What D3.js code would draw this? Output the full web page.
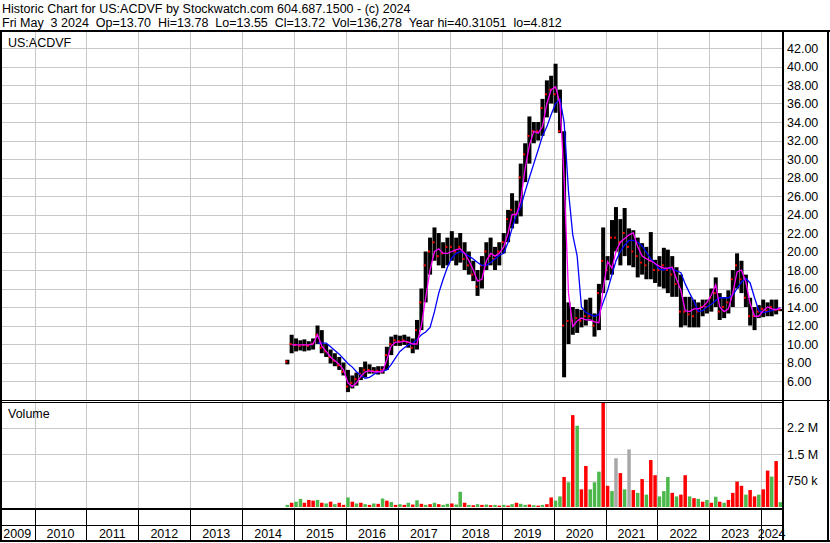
<!DOCTYPE html>
<html>
<head>
<meta charset="utf-8">
<script src="https://cdn.jsdelivr.net/npm/d3@7"></script>
<style>
  body { margin: 0; background: #fff; }
  svg { display: block; }
  text { font-family: "Liberation Sans", Arial, sans-serif; fill: #000; }
</style>
</head>
<body>
<div id="chart"></div>
<script>
// monthly bars, first month is Nov 2014, last is May 2024
var firstMonth = new Date(2014, 10, 15);

var priceHigh = [
  8.3, 11.0,
  10.6, 10.4, 10.5, 10.3, 10.6, 12.0, 11.5, 10.0, 9.4, 9.0, 8.6, 8.0,
  7.2, 6.6, 6.9, 7.5, 8.1, 7.8, 7.5, 7.6, 7.6, 9.7, 10.8, 11.0,
  10.9, 11.0, 10.8, 10.6, 12.6, 16.0, 20.0, 21.5, 22.6, 22.0, 21.0, 21.5,
  22.2, 21.5, 22.0, 21.0, 20.0, 19.0, 18.0, 19.5, 21.0, 21.5, 20.5, 21.0,
  22.0, 24.5, 26.3, 25.5, 29.5, 31.7, 34.6, 34.0, 34.0, 36.5, 38.5, 39.0,
  40.3, 37.5, 33.0, 14.5, 14.0, 13.8, 13.7, 14.8, 15.0, 13.3, 16.5, 22.6,
  19.5, 23.4, 24.8, 23.5, 24.7, 22.5, 22.3, 21.5, 20.9, 20.5, 22.1, 19.1,
  19.5, 20.4, 20.2, 19.5, 18.3, 17.5, 15.1, 15.1, 14.8, 14.5, 14.8, 14.8,
  16.0, 17.2, 15.5, 15.0, 15.8, 18.0, 19.8, 19.0, 17.5, 15.0, 14.0, 14.2,
  14.8, 14.5, 14.8, 14.8, 13.78
];
var priceLow = [
  7.8, 9.0,
  9.2, 9.3, 9.2, 9.3, 9.4, 10.0, 9.0, 8.6, 7.9, 7.6, 7.2, 6.6,
  4.8, 5.2, 5.5, 6.1, 6.4, 6.8, 6.8, 6.7, 6.8, 7.2, 8.8, 9.8,
  9.8, 9.9, 9.6, 9.0, 9.4, 11.5, 14.5, 17.5, 19.0, 18.5, 18.2, 18.5,
  19.0, 18.5, 18.8, 18.0, 17.5, 16.8, 15.2, 16.0, 18.0, 18.5, 18.0, 18.5,
  19.8, 21.0, 22.5, 23.0, 23.8, 27.5, 29.5, 31.7, 32.0, 32.5, 34.5, 36.0,
  35.0, 32.8, 6.4, 10.0, 11.0, 11.2, 11.8, 12.0, 12.5, 10.8, 11.5, 15.5,
  16.9, 17.5, 20.0, 18.5, 19.5, 18.5, 18.3, 17.2, 17.5, 17.0, 17.0, 16.6,
  16.2, 16.0, 15.5, 15.1, 15.1, 11.8, 12.0, 11.8, 11.8, 11.8, 13.0, 13.3,
  13.5, 14.0, 12.6, 12.8, 13.3, 14.0, 16.0, 15.5, 14.0, 12.0, 11.5, 12.8,
  12.9, 13.0, 13.0, 13.2, 13.55
];
var priceClose = [
  8.1, 10.0,
  9.9, 9.8, 9.9, 9.8, 10.0, 11.0, 9.6, 9.2, 8.6, 8.2, 7.7, 7.0,
  5.4, 5.8, 6.2, 6.8, 7.2, 7.2, 7.1, 7.1, 7.2, 8.8, 10.0, 10.4,
  10.3, 10.4, 10.2, 9.6, 11.5, 14.5, 18.5, 20.0, 21.0, 19.5, 19.8, 20.5,
  20.5, 20.0, 20.5, 19.2, 18.5, 17.5, 16.2, 18.5, 20.0, 19.5, 19.2, 20.0,
  21.0, 23.5, 24.5, 24.0, 28.0, 30.5, 32.5, 33.0, 33.0, 35.5, 37.0, 37.5,
  37.0, 33.0, 12.0, 12.5, 12.5, 12.8, 12.5, 13.0, 13.0, 12.0, 15.5, 19.0,
  18.0, 21.5, 21.5, 21.0, 22.0, 20.5, 20.0, 19.5, 18.8, 18.5, 19.0, 18.0,
  18.0, 18.5, 18.0, 17.5, 16.5, 13.5, 13.5, 13.2, 13.0, 13.5, 14.0, 14.0,
  15.0, 15.5, 13.5, 14.0, 14.5, 17.0, 18.5, 17.0, 15.0, 13.0, 13.0, 13.5,
  13.8, 13.6, 14.0, 13.7, 13.72
];
// short average (magenta) and long average (blue)
var maFast = [
  null, 9.9,
  9.9, 9.9, 9.9, 9.9, 10.0, 11.0, 9.8, 9.2, 8.6, 8.2, 7.8, 7.2,
  5.8, 5.4, 5.8, 6.5, 7.0, 7.1, 7.0, 7.0, 7.0, 8.3, 9.8, 10.2,
  10.2, 10.3, 10.2, 10.0, 10.0, 12.0, 15.0, 18.0, 20.0, 20.3, 19.8, 19.8,
  20.0, 20.2, 20.3, 19.8, 19.0, 18.0, 16.8, 17.0, 19.0, 19.8, 19.5, 19.8,
  20.5, 22.0, 24.0, 24.0, 25.5, 29.0, 31.5, 33.0, 32.8, 33.5, 36.0, 37.5,
  37.8, 36.0, 28.0, 15.5, 11.9, 12.5, 12.8, 12.6, 12.6, 12.4, 12.3, 16.0,
  18.9, 18.2, 20.0, 21.0, 21.4, 21.8, 22.0, 20.5, 19.5, 19.2, 19.0, 18.7,
  18.4, 18.2, 18.2, 18.3, 17.0, 15.8, 13.6, 13.5, 13.8, 13.8, 14.0, 14.5,
  15.3, 16.4, 14.0, 13.5, 13.8, 15.5, 17.8, 18.0, 16.7, 14.4, 13.0, 13.0,
  13.6, 14.0, 13.8, 13.7, 13.9
];
var maSlow = [
  null, null,
  null, null, null, null, null, 10.1, 10.1, 10.1, 9.7, 9.3, 8.9, 8.4,
  7.9, 7.5, 7.0, 6.6, 6.3, 6.4, 6.7, 7.0, 7.1, 7.2, 7.8, 8.5,
  9.2, 9.6, 9.9, 10.1, 10.5, 11.0, 11.3, 11.8, 13.5, 15.5, 17.0, 18.3,
  19.3, 19.8, 20.0, 19.8, 19.5, 19.2, 18.8, 18.5, 18.5, 18.8, 19.2, 19.6,
  19.8, 21.0, 22.5, 24.0, 24.8, 26.5, 28.0, 29.5, 31.0, 32.5, 33.5, 34.8,
  36.0, 36.5, 34.0, 26.5, 21.8, 19.5, 14.0, 13.4, 13.2, 13.0, 13.2, 14.5,
  15.8, 17.5, 19.0, 20.0, 20.7, 21.2, 21.2, 21.0, 20.6, 19.9, 19.2, 18.7,
  18.1, 18.0, 18.2, 18.1, 17.9, 17.7, 16.5, 15.5, 14.6, 13.5, 13.6, 14.0,
  14.3, 14.7, 15.0, 15.0, 15.0, 15.3, 16.0, 16.7, 17.1, 16.6, 15.0, 13.6,
  13.4, 13.5, 13.6, 13.8, 13.9
];
// volume in thousands, and bar colour: g up, r down, n unchanged
var volumeK = [
  60, 120,
  150, 230, 120, 200, 180, 200, 120, 100, 150, 80, 120, 60,
  270, 150, 100, 120, 80, 60, 100, 90, 240, 180, 140, 60,
  80, 60, 120, 70, 190, 90, 60, 80, 120, 80, 60, 90,
  100, 70, 430, 120, 60, 50, 80, 60, 70, 50, 60, 40,
  60, 40, 80, 120, 90, 60, 70, 50, 40, 60, 80, 270,
  180, 300, 850, 700, 2600, 2300, 500, 1160, 500, 700, 1000, 3100,
  600, 450, 1380, 960, 500, 1630, 480, 400, 790, 350, 1330, 900,
  300, 450, 850, 400, 300, 350, 900, 300, 250, 230, 150, 200,
  120, 290, 150, 120, 200, 400, 720, 600, 350, 480, 300, 350,
  500, 1030, 860, 1300, 136
];
var volumeDir = (
  "gr" +
  "ggrrrgrgrgrr" +
  "grgrgrgrgrgr" +
  "grgrgrgrgrgg" +
  "rggrgrgrgrgr" +
  "grgrggrgrgrr" +
  "ggrgrgrrgggr" +
  "rgnrgnrgrgrr" +
  "gggrgrrgrgrg" +
  "rgrgrrrrgrrg" +
  "rrgrg").split("");

var priceTicks = [6, 8, 10, 12, 14, 16, 18, 20, 22, 24, 26, 28, 30, 32, 34, 36, 38, 40, 42];
var volumeTicks = [750000, 1500000, 2250000];
var volumeTickLabels = ["750 k", "1.5 M", "2.2 M"];
var yearLabels = ["2009", "2010", "2011", "2012", "2013", "2014", "2015", "2016",
                  "2017", "2018", "2019", "2020", "2021", "2022", "2023", "2024"];

var headerLine1 = "Historic Chart for US:ACDVF by Stockwatch.com 604.687.1500 - (c) 2024";
var headerLine2 = "Fri May  3 2024  Op=13.70  Hi=13.78  Lo=13.55  Cl=13.72  Vol=136,278  Year hi=40.31051  lo=4.812";

var W = 830, H = 543;
var plotRight = 782, plotTop = 32, priceBottom = 400, volTop = 403, volBottom = 508;

var months = priceHigh.map(function(d, i) { return d3.timeMonth.offset(firstMonth, i); });

var svg = d3.select("#chart").append("svg")
    .attr("width", W)
    .attr("height", H);

svg.append("rect").attr("width", W).attr("height", H).attr("fill", "#fff");

var x = d3.scaleTime()
    .domain([new Date(2009, 4, 3), new Date(2024, 4, 3)])
    .range([0, 778.7]);
var y = d3.scaleLinear().domain([6, 42]).range([381, 48]);
var vy = d3.scaleLinear().domain([0, 2250000]).range([507, 427.5]);

var yearStarts = yearLabels.map(function(s) { return new Date(+s, 0, 1); });
var boundaries = yearStarts.slice(1).map(function(d) { return Math.round(x(d)) + 0.5; });

var defs = svg.append("defs");
defs.append("clipPath").attr("id", "clipPrice")
  .append("rect").attr("x", 1).attr("y", plotTop).attr("width", plotRight - 1).attr("height", priceBottom - plotTop);
defs.append("clipPath").attr("id", "clipVol")
  .append("rect").attr("x", 1).attr("y", volTop).attr("width", plotRight - 1).attr("height", volBottom - volTop);

// grid
var grid = svg.append("g").attr("stroke", "#c8c8c8").attr("stroke-width", 1);
grid.selectAll(".hp").data(priceTicks).enter().append("line")
    .attr("x1", 0).attr("x2", plotRight)
    .attr("y1", function(d) { return Math.round(y(d)) + 0.5; })
    .attr("y2", function(d) { return Math.round(y(d)) + 0.5; });
grid.selectAll(".hv").data(volumeTicks).enter().append("line")
    .attr("x1", 0).attr("x2", plotRight)
    .attr("y1", function(d) { return Math.round(vy(d)) + 0.5; })
    .attr("y2", function(d) { return Math.round(vy(d)) + 0.5; });
grid.selectAll(".vp").data(boundaries).enter().append("line")
    .attr("x1", function(d) { return d; }).attr("x2", function(d) { return d; })
    .attr("y1", plotTop).attr("y2", priceBottom);
grid.selectAll(".vv").data(boundaries).enter().append("line")
    .attr("x1", function(d) { return d; }).attr("x2", function(d) { return d; })
    .attr("y1", volTop).attr("y2", volBottom);

// price bars
var price = svg.append("g").attr("clip-path", "url(#clipPrice)");
price.selectAll(".bar").data(months).enter().append("rect")
    .attr("x", function(d) { return x(d) - 2; })
    .attr("width", 4)
    .attr("y", function(d, i) { return y(priceHigh[i]); })
    .attr("height", function(d, i) { return Math.max(1, y(priceLow[i]) - y(priceHigh[i])); })
    .attr("fill", "#000");
price.selectAll(".cl").data(months).enter().append("rect")
    .attr("x", function(d) { return x(d) - 2; })
    .attr("width", 2)
    .attr("y", function(d, i) { return y(priceClose[i]) - 1; })
    .attr("height", 2)
    .attr("fill", "#ff0000");

function maLine(vals) {
  return d3.line()
    .defined(function(d, i) { return vals[i] != null; })
    .x(function(d) { return x(d); })
    .y(function(d, i) { return y(vals[i]); });
}
price.append("path").datum(months)
    .attr("fill", "none").attr("stroke", "#0000ff").attr("stroke-width", 1.3)
    .attr("d", maLine(maSlow));
price.append("path").datum(months)
    .attr("fill", "none").attr("stroke", "#ff00ff").attr("stroke-width", 1.3)
    .attr("d", maLine(maFast));

// volume bars
var volColor = {g: "#4cb84c", r: "#ff0000", n: "#a8a8a8"};
svg.append("g").attr("clip-path", "url(#clipVol)")
  .selectAll("rect").data(months).enter().append("rect")
    .attr("x", function(d) { return x(d) - 1.75; })
    .attr("width", 3.5)
    .attr("y", function(d, i) { return vy(volumeK[i] * 1000); })
    .attr("height", function(d, i) { return vy(0) - vy(volumeK[i] * 1000); })
    .attr("fill", function(d, i) { return volColor[volumeDir[i]]; });

// frame lines
var frame = svg.append("g").attr("stroke", "#000").attr("fill", "none");
frame.append("line").attr("x1", 0).attr("x2", W).attr("y1", 31).attr("y2", 31).attr("stroke-width", 2);
frame.append("line").attr("x1", 1).attr("x2", 1).attr("y1", 30).attr("y2", 542).attr("stroke-width", 2);
frame.append("line").attr("x1", 828).attr("x2", 828).attr("y1", 30).attr("y2", 542).attr("stroke-width", 2);
frame.append("line").attr("x1", 0).attr("x2", W).attr("y1", 541).attr("y2", 541).attr("stroke-width", 2);
frame.append("line").attr("x1", plotRight + 1).attr("x2", plotRight + 1).attr("y1", 30).attr("y2", 542).attr("stroke-width", 2);
frame.append("line").attr("x1", 0).attr("x2", W).attr("y1", 400.5).attr("y2", 400.5);
frame.append("line").attr("x1", 0).attr("x2", plotRight).attr("y1", 402.5).attr("y2", 402.5);
frame.append("line").attr("x1", 0).attr("x2", plotRight).attr("y1", 509).attr("y2", 509).attr("stroke-width", 2);
frame.append("line").attr("x1", 0).attr("x2", plotRight).attr("y1", 525.5).attr("y2", 525.5);
frame.selectAll(".yb").data(boundaries).enter().append("line")
    .attr("x1", function(d) { return d; }).attr("x2", function(d) { return d; })
    .attr("y1", 509).attr("y2", 541);

// texts
svg.append("text").attr("x", 2).attr("y", 12.5).style("font-size", "12.5px")
    .style("white-space", "pre").text(headerLine1);
svg.append("text").attr("x", 2).attr("y", 26.5).style("font-size", "12.5px")
    .style("white-space", "pre").text(headerLine2);
svg.append("text").attr("x", 8).attr("y", 47).style("font-size", "12.5px").text("US:ACDVF");
svg.append("text").attr("x", 8).attr("y", 418).style("font-size", "12.5px").text("Volume");

svg.selectAll(".pl").data(priceTicks).enter().append("text")
    .attr("x", 787)
    .attr("y", function(d) { return y(d) + 4.5; })
    .style("font-size", "12.5px")
    .text(function(d) { return d3.format(".2f")(d); });
svg.selectAll(".vl").data(volumeTicks).enter().append("text")
    .attr("x", 787)
    .attr("y", function(d) { return vy(d) + 4.5; })
    .style("font-size", "12.5px")
    .text(function(d, i) { return volumeTickLabels[i]; });

svg.selectAll(".yl").data(yearLabels).enter().append("text")
    .attr("x", function(d, i) {
      var a = Math.max(0, x(yearStarts[i]));
      var b = i < yearLabels.length - 1 ? Math.min(plotRight, x(yearStarts[i + 1])) : plotRight;
      return (a + b) / 2;
    })
    .attr("y", 538)
    .attr("text-anchor", "middle")
    .style("font-size", "12.5px")
    .text(function(d) { return d; });
</script>
</body>
</html>
